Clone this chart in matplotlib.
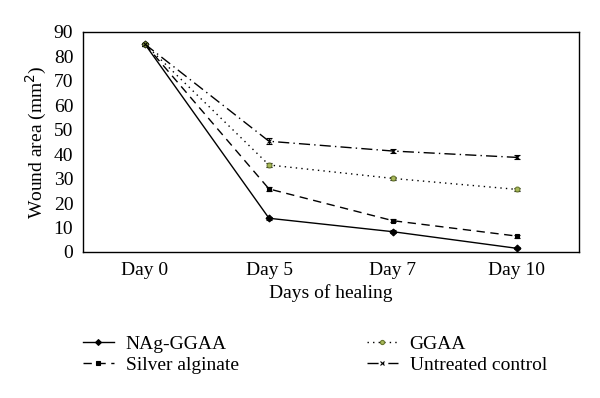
import numpy as np
import matplotlib.pyplot as plt
from matplotlib.lines import Line2D

plt.rcParams['font.family'] = ['Liberation Serif', 'DejaVu Serif']

days = ['Day 0', 'Day 5', 'Day 7', 'Day 10']
nag_ggaa = [85.0, 13.8, 8.3, 1.5]
silver_alginate = [85.0, 25.8, 12.8, 6.5]
ggaa = [85.0, 35.6, 30.1, 25.6]
untreated = [85.0, 45.3, 41.3, 38.7]
nag_err = [0.6, 0.7, 0.5, 0.4]
silver_err = [0.6, 0.9, 0.7, 0.6]
ggaa_err = [0.6, 0.9, 0.6, 0.6]
untreated_err = [0.6, 1.2, 1.0, 0.8]

x = np.arange(len(days))
fs = 14

fig = plt.figure(figsize=(6, 3.98), dpi=100)
ax = fig.add_axes([83/600, 1 - 252/398, 496/600, 220/398])

series = [
    ('NAg-GGAA', nag_ggaa, nag_err, '-', 'D', 'black'),
    ('Silver alginate', silver_alginate, silver_err, (0, (6, 4)), 's', 'black'),
    ('GGAA', ggaa, ggaa_err, (0, (1, 3)), 'o', '#a8b858'),
    ('Untreated control', untreated, untreated_err, (0, (8, 3, 1, 3)), 'x', 'black'),
]

handles = []
for name, vals, err, ls, mk, mc in series:
    mec = 'black' if mc == 'black' else '#6a7a30'
    ax.errorbar(x, vals, yerr=err, color='black', lw=1.0, ls=ls,
                marker=mk, ms=3.5, mfc=mc, mec=mec,
                mew=0.8, capsize=2.5, elinewidth=0.9)
    handles.append(Line2D([], [], color='black', lw=1.0, ls=ls, marker=mk,
                          ms=3, mfc=mc, mec=mec, mew=0.8, label=name))

ax.set_xlim(-0.5, 3.5)
ax.set_ylim(0, 90)
ax.set_yticks(range(0, 91, 10))
ax.set_xticks(x)
ax.set_xticklabels(days)
ax.tick_params(axis='y', length=0, labelsize=fs, pad=7)
ax.tick_params(axis='x', length=0, labelsize=fs, pad=7)
for s in ax.spines.values():
    s.set_linewidth(1.0)
ax.set_xlabel('Days of healing', fontsize=fs, labelpad=4)
ax.set_ylabel('Wound area (mm$^2$)', fontsize=fs, labelpad=3)

fig.legend(handles=handles, ncol=2,
           loc='upper left', bbox_to_anchor=(0.125, 0.178), frameon=False,
           fontsize=fs, handlelength=1.6, handletextpad=0.6,
           columnspacing=6.6, labelspacing=0.2, borderaxespad=0)

fig.savefig('out.png', dpi=100)
